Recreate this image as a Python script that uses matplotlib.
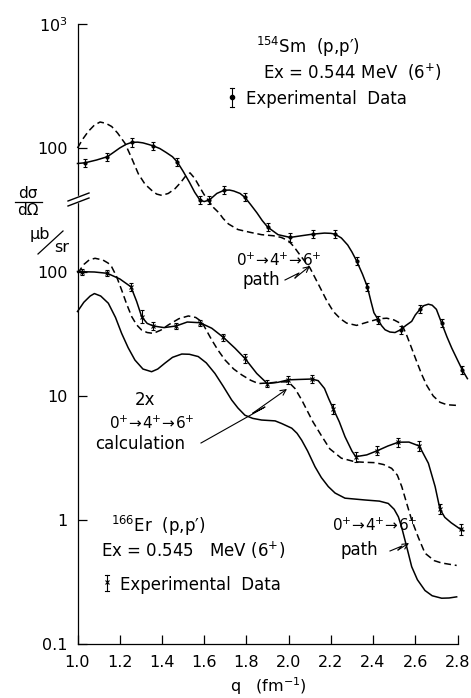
import matplotlib.pyplot as plt
from matplotlib.lines import Line2D
from matplotlib.patches import Rectangle
from matplotlib.ticker import NullLocator

plt.rcParams['font.family'] = 'DejaVu Sans'
plt.rcParams['mathtext.default'] = 'regular'

# ---- 154Sm (p,p') Ex=0.544 MeV (6+)  (upper part, axis broken: drawn one decade up)
SM_SHIFT = 10.0

sm_q = [1.036, 1.141, 1.257, 1.359, 1.473, 1.580, 1.624, 1.694, 1.793, 1.901,
        2.007, 2.114, 2.220, 2.322, 2.373, 2.425, 2.530, 2.622, 2.725, 2.823]
sm_xs = [76, 85, 111, 104, 77, 38, 38, 45.6, 40, 23,
         19, 20.2, 20.2, 12.3, 7.6, 4.1, 3.42, 5.0, 3.87, 1.62]
sm_rel_err = [0.08] * len(sm_q)

# line drawn through the Sm data
sm_fit_q = [1.00, 1.036, 1.09, 1.141, 1.17, 1.20, 1.23, 1.257, 1.285, 1.31,
            1.335, 1.359, 1.39, 1.42, 1.45, 1.473, 1.50, 1.53, 1.555, 1.580,
            1.60, 1.624, 1.66, 1.694, 1.72, 1.74, 1.77, 1.793, 1.82, 1.85,
            1.875, 1.901, 1.95, 2.007, 2.06, 2.114, 2.17, 2.20, 2.220, 2.25,
            2.28, 2.30, 2.322, 2.35, 2.373, 2.39, 2.404, 2.425, 2.44, 2.457,
            2.48, 2.504, 2.530, 2.555, 2.583, 2.60, 2.622, 2.64, 2.662, 2.68,
            2.70, 2.725, 2.75, 2.773, 2.80, 2.823, 2.847]
sm_fit = [75, 76, 80, 85, 92, 100, 107, 111, 111.5, 110,
          107, 104, 99, 92, 85, 77, 65, 53, 44, 38,
          37, 38, 43, 45.6, 45.8, 45, 43, 40, 35, 30,
          26, 23, 20, 19, 19.6, 20.2, 20.6, 20.5, 20.2, 18.8,
          16.5, 14.5, 12.3, 9.6, 7.6, 5.8, 4.7, 4.1, 3.7, 3.42,
          3.28, 3.25, 3.42, 3.7, 4.0, 4.5, 5.0, 5.35, 5.5, 5.4,
          5.0, 3.87, 3.0, 2.43, 1.95, 1.62, 1.38]

# 0+ -> 4+ -> 6+ path calculation for Sm (dashed)
sm_path_q = [1.00, 1.025, 1.051, 1.08, 1.107, 1.135, 1.162, 1.19, 1.225, 1.255,
             1.288, 1.32, 1.351, 1.375, 1.399, 1.43, 1.462, 1.49, 1.509, 1.533,
             1.555, 1.58, 1.60, 1.62, 1.645, 1.67, 1.69, 1.715, 1.76, 1.817,
             1.872, 1.928, 1.965, 1.999, 2.025, 2.05, 2.075, 2.101, 2.125, 2.149,
             2.18, 2.212, 2.245, 2.275, 2.322, 2.386, 2.43, 2.465, 2.50, 2.528,
             2.545, 2.559, 2.58, 2.607, 2.63, 2.654, 2.685, 2.717, 2.75, 2.796]
sm_path = [100, 118, 136, 153, 162, 158, 149, 132, 109, 84,
           62, 51, 45.6, 42.5, 41.5, 43, 47, 53, 58.5, 63,
           57, 48, 42, 37.8, 33, 30, 27, 24.4, 22, 20.9,
           20.0, 19.6, 19, 17.9, 16, 14, 12.3, 10.8, 9, 7.5,
           5.9, 4.8, 4.2, 3.87, 3.71, 4.0, 4.2, 4.24, 4.1, 3.87,
           3.5, 3.1, 2.5, 1.89, 1.5, 1.22, 1.0, 0.89, 0.85, 0.84]

# ---- 166Er (p,p') Ex=0.545 MeV (6+)
er_q = [1.023, 1.141, 1.253, 1.304, 1.359, 1.467, 1.580, 1.691, 1.793, 1.899,
        1.999, 2.109, 2.212, 2.318, 2.420, 2.520, 2.619, 2.717, 2.815]
er_xs = [100.5, 97.6, 76, 43.6, 36.7, 36.7, 39, 29.7, 20.1, 12.6,
         13.5, 13.7, 7.85, 3.24, 3.62, 4.24, 3.95, 1.22, 0.84]
er_rel_err = [0.06, 0.06, 0.08, 0.13, 0.07, 0.06, 0.06, 0.07, 0.08, 0.07,
              0.08, 0.07, 0.09, 0.10, 0.09, 0.09, 0.09, 0.10, 0.10]

# line drawn through the Er data
er_fit_q = [1.00, 1.023, 1.08, 1.141, 1.20, 1.253, 1.28, 1.304, 1.33, 1.359,
            1.41, 1.467, 1.52, 1.580, 1.636, 1.691, 1.746, 1.793, 1.849, 1.899,
            1.95, 1.999, 2.05, 2.109, 2.14, 2.17, 2.19, 2.212, 2.24, 2.267,
            2.30, 2.318, 2.37, 2.420, 2.47, 2.520, 2.57, 2.619, 2.662, 2.694,
            2.717, 2.74, 2.77, 2.815, 2.83]
er_fit = [101, 100.5, 100, 97.6, 88, 76, 58, 43.6, 38.5, 36.7,
          35.6, 36.7, 39.5, 39, 35.2, 29.7, 24.3, 20.1, 15.2, 12.6,
          12.9, 13.5, 13.6, 13.7, 13.3, 11.5, 9.5, 7.85, 6.2, 4.7,
          3.6, 3.24, 3.35, 3.62, 3.95, 4.24, 4.25, 3.95, 2.87, 1.86,
          1.22, 1.05, 0.95, 0.84, 0.82]

# 0+ -> 4+ -> 6+ path for Er (dashed)
er_path_q = [1.00, 1.012, 1.03, 1.055, 1.083, 1.12, 1.145, 1.162, 1.185, 1.209,
             1.233, 1.257, 1.28, 1.304, 1.33, 1.359, 1.395, 1.43, 1.48, 1.525,
             1.56, 1.588, 1.61, 1.636, 1.665, 1.699, 1.74, 1.778, 1.82, 1.857,
             1.92, 1.96, 1.999, 2.03, 2.062, 2.09, 2.115, 2.155, 2.195, 2.25,
             2.314, 2.36, 2.409, 2.45, 2.488, 2.515, 2.536, 2.56, 2.583, 2.615,
             2.646, 2.69, 2.725, 2.796]
er_path = [98, 104, 115, 125, 129, 125, 118, 110, 92, 71.6,
           55, 43.6, 37.5, 34, 32.5, 32, 34, 37.4, 42, 44.2,
           43, 39.8, 34, 28.3, 23.5, 19.5, 16.5, 14.8, 13.4, 12.6,
           12.8, 13.0, 13, 11.5, 9.3, 7.5, 6.2, 4.8, 3.75, 3.15,
           2.95, 2.92, 2.9, 2.8, 2.61, 2.3, 1.86, 1.35, 1.0, 0.72,
           0.54, 0.47, 0.45, 0.43]

# 2x 0+ -> 4+ -> 6+ calculation for Er (solid)
er_calc_q = [1.00, 1.03, 1.06, 1.08, 1.11, 1.146, 1.18, 1.209, 1.24, 1.272,
             1.31, 1.351, 1.38, 1.414, 1.45, 1.494, 1.53, 1.572, 1.61, 1.651,
             1.69, 1.73, 1.76, 1.793, 1.83, 1.872, 1.936, 1.967, 2.015, 2.04,
             2.062, 2.09, 2.125, 2.155, 2.188, 2.22, 2.267, 2.362, 2.43, 2.472,
             2.50, 2.52, 2.535, 2.551, 2.567, 2.583, 2.61, 2.646, 2.68, 2.725,
             2.76, 2.796]
er_calc = [48, 57, 64, 67, 64, 56, 43, 32, 24.5, 19.5,
           16.5, 15.7, 16.5, 18.4, 20.5, 21.8, 21.7, 20.8, 18.5, 15.2,
           12, 9.3, 8, 7.0, 6.6, 6.4, 6.3, 6.0, 5.5, 5.0,
           4.4, 3.6, 2.69, 2.2, 1.86, 1.65, 1.5, 1.45, 1.42, 1.36,
           1.22, 1.06, 0.88, 0.69, 0.54, 0.42, 0.33, 0.27, 0.245, 0.234,
           0.235, 0.24]

x_ticks = [1.0, 1.2, 1.4, 1.6, 1.8, 2.0, 2.2, 2.4, 2.6, 2.8]
y_ticks = [0.1, 1, 10, 100, 1000, 10000]
y_tick_labels = ['0.1', '1', '10', '100', '100', '$10^3$']

W, H = 471, 698


def fp(px, py):
    # pixel position (from top-left) -> figure fraction
    return px / W, 1 - py / H


fig = plt.figure(figsize=(W / 100, H / 100), dpi=100)
ax = fig.add_axes([77.5 / W, 1 - 644 / H, 380 / W, 620 / H])

lw = 1.1
dash = (4.5, 2.5)

ax.plot(sm_fit_q, [v * SM_SHIFT for v in sm_fit], color='k', lw=lw, clip_on=False)
ax.plot(sm_path_q, [v * SM_SHIFT for v in sm_path], color='k', lw=lw,
        dashes=dash, clip_on=False)
ax.plot(er_fit_q, er_fit, color='k', lw=lw, clip_on=False)
ax.plot(er_path_q, er_path, color='k', lw=lw, dashes=dash, clip_on=False)
ax.plot(er_calc_q, er_calc, color='k', lw=lw, clip_on=False)


def data_points(q, vals, rel, marker, ms):
    lo = [v - v / (1 + r) for v, r in zip(vals, rel)]
    hi = [v * r for v, r in zip(vals, rel)]
    eb = ax.errorbar(q, vals, yerr=[lo, hi], fmt='none', ecolor='k',
                     elinewidth=0.8, capsize=1.6, capthick=0.8)
    for art in list(eb.lines[1]) + list(eb.lines[2]):
        art.set_clip_on(False)
    ax.plot(q, vals, ls='none', marker=marker, ms=ms, color='k', mew=0.8,
            clip_on=False)


data_points(sm_q, [v * SM_SHIFT for v in sm_xs], sm_rel_err, 'o', 2.2)
data_points(er_q, er_xs, er_rel_err, 'x', 3.2)

ax.set_yscale('log')
ax.set_xlim(1.0, 2.8)
ax.set_ylim(0.1, 1e4)
ax.set_xticks(x_ticks)
ax.set_xticklabels([f'{t:.1f}' for t in x_ticks])
ax.set_yticks(y_ticks)
ax.set_yticklabels(y_tick_labels)
ax.yaxis.set_minor_locator(NullLocator())
ax.spines['top'].set_visible(False)
ax.spines['right'].set_visible(False)
for s in ('left', 'bottom'):
    ax.spines[s].set_linewidth(0.9)
ax.tick_params(direction='in', length=6.5, width=0.9, labelsize=11.5)
ax.tick_params(axis='x', pad=8)
ax.tick_params(axis='y', pad=7)

# axis break on the left spine
fig.add_artist(Rectangle(fp(76, 202.5), 4 / W, 6 / H, transform=fig.transFigure,
                         color='white', zorder=5))
for dy in (0, 5):
    x0, y0 = fp(68, 201 + dy)
    x1, y1 = fp(89, 193 + dy)
    fig.add_artist(Line2D([x0, x1], [y0, y1], transform=fig.transFigure,
                          color='k', lw=1.0, zorder=6))

# y axis label
fig.text(*fp(28, 193), 'd\u03c3', ha='center', va='center', fontsize=11)
fig.add_artist(Line2D(*zip(fp(15, 201.5), fp(42, 201.5)),
                      transform=fig.transFigure, color='k', lw=0.9))
fig.text(*fp(28, 211), 'd\u03a9', ha='center', va='center', fontsize=11)
fig.text(*fp(40, 235), '\u03bcb', ha='center', va='center', fontsize=11.5)
fig.add_artist(Line2D(*zip(fp(38, 254), fp(63, 231)),
                      transform=fig.transFigure, color='k', lw=0.9))
fig.text(*fp(62, 248), 'sr', ha='center', va='center', fontsize=11.5)

# x axis label
fig.text(*fp(268, 686), 'q   (fm$^{-1}$)', ha='center', va='center', fontsize=11.5)

path_lbl = '$0^{+}\\!\\rightarrow\\!4^{+}\\!\\rightarrow\\!6^{+}$'

# Sm labels
fig.text(*fp(256, 53), '$^{154}$Sm  (p,p\u2032)', fontsize=12, va='baseline')
fig.text(*fp(263, 79), 'Ex = 0.544 MeV  (6$^{+}$)', fontsize=12, va='baseline')
fig.text(*fp(246, 104), 'Experimental  Data', fontsize=12, va='baseline')
fig.add_artist(Line2D(*zip(fp(232, 88), fp(232, 107)), transform=fig.transFigure,
                      color='k', lw=0.8))
fig.add_artist(Line2D([fp(232, 97)[0]], [fp(232, 97)[1]], transform=fig.transFigure,
                      marker='o', ms=3, color='k'))
for yy in (88, 107):
    fig.add_artist(Line2D(*zip(fp(230, yy), fp(234, yy)), transform=fig.transFigure,
                          color='k', lw=0.8))

fig.text(*fp(236, 266), path_lbl, fontsize=11, va='baseline')
fig.text(*fp(242, 285), 'path', fontsize=12, va='baseline')
fig.add_artist(Line2D(*zip(fp(285, 280), fp(299, 273), fp(295, 278)),
                      transform=fig.transFigure, color='k', lw=0.8))
ax.annotate('', xy=fp(310, 266), xytext=fp(295, 278),
            xycoords='figure fraction', textcoords='figure fraction',
            arrowprops=dict(arrowstyle='->', lw=0.8, color='k',
                            shrinkA=0, shrinkB=0))

# calculation labels
fig.text(*fp(145, 405), '2x', fontsize=12, ha='center', va='baseline')
fig.text(*fp(109, 429), path_lbl, fontsize=11, va='baseline')
fig.text(*fp(95, 449), 'calculation', fontsize=12, va='baseline')
fig.add_artist(Line2D(*zip(fp(201, 443), fp(265, 407), fp(253, 413)),
                      transform=fig.transFigure, color='k', lw=0.8))
ax.annotate('', xy=fp(287, 389), xytext=fp(253, 413),
            xycoords='figure fraction', textcoords='figure fraction',
            arrowprops=dict(arrowstyle='->', lw=0.8, color='k',
                            shrinkA=0, shrinkB=0))

# Er labels
fig.text(*fp(111, 532), '$^{166}$Er  (p,p\u2032)', fontsize=12, va='baseline')
fig.text(*fp(101, 557), 'Ex = 0.545   MeV (6$^{+}$)', fontsize=12, va='baseline')
fig.text(*fp(120, 590), 'Experimental  Data', fontsize=12, va='baseline')
fig.add_artist(Line2D(*zip(fp(107, 575), fp(107, 591)), transform=fig.transFigure,
                      color='k', lw=0.8))
fig.add_artist(Line2D([fp(107, 582)[0]], [fp(107, 582)[1]], transform=fig.transFigure,
                      marker='x', ms=3.5, mew=0.8, color='k'))
for yy in (575, 591):
    fig.add_artist(Line2D(*zip(fp(105, yy), fp(109, yy)), transform=fig.transFigure,
                          color='k', lw=0.8))

fig.text(*fp(332, 531), path_lbl, fontsize=11, va='baseline')
fig.text(*fp(341, 555), 'path', fontsize=12, va='baseline')
fig.add_artist(Line2D(*zip(fp(390, 551), fp(402, 546), fp(398, 550)),
                      transform=fig.transFigure, color='k', lw=0.8))
ax.annotate('', xy=fp(409, 543), xytext=fp(398, 550),
            xycoords='figure fraction', textcoords='figure fraction',
            arrowprops=dict(arrowstyle='->', lw=0.8, color='k',
                            shrinkA=0, shrinkB=0))

fig.savefig('out.png', dpi=100)
